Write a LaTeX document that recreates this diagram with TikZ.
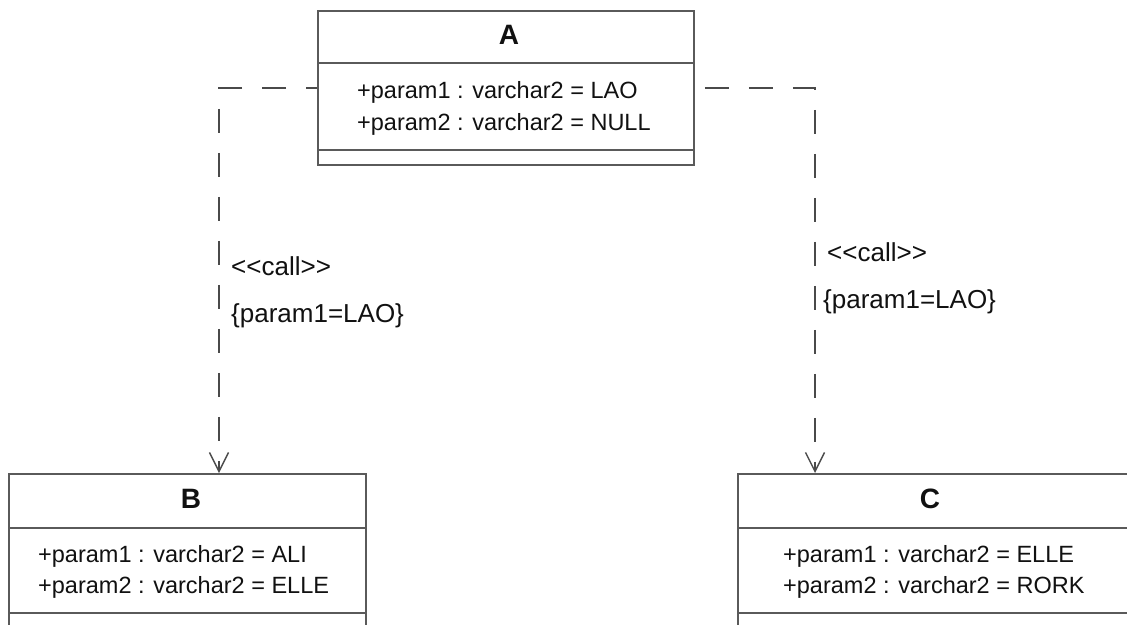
\documentclass[tikz,border=0pt]{standalone}
\usepackage{fontspec}
\setmainfont{Liberation Sans}
\usetikzlibrary{arrows.meta}
\definecolor{boxline}{HTML}{5A5A5A}
\definecolor{depline}{HTML}{4A4A4A}
\definecolor{txt}{HTML}{111111}
\begin{document}
\begin{tikzpicture}[x=1pt,y=-1pt,
  classbox/.style={draw=boxline,line width=1.6pt,rectangle,inner sep=0pt,minimum width=#1},
  sepline/.style={draw=boxline,line width=1.6pt},
  attr/.style={anchor=base west,inner sep=0pt,text=txt,font=\fontsize{23.5}{26}\selectfont},
  ttl/.style={anchor=base,inner sep=0pt,text=txt,font=\fontsize{28}{30}\selectfont\bfseries},
  lbl/.style={anchor=base west,inner sep=0pt,text=txt,font=\fontsize{26}{29}\selectfont},
  dep/.style={draw=depline,line width=1.4pt,dash pattern=on 24pt off 20pt,
    -{Straight Barb[length=19pt,width=19pt,line width=1.4pt]}}
]
\useasboundingbox (0,0) rectangle (1127,624);
\begin{scope}
\clip (0,0) rectangle (1127,624);
\fill[white] (0,0) rectangle (1127,624);
% class boxes
\node[classbox=376pt,minimum height=154pt] (A) at (506,88) {};
\node[classbox=357pt,minimum height=166pt] (B) at (187.5,557) {};
\node[classbox=402pt,minimum height=166pt] (C) at (939,557) {};
% compartments
\draw[sepline] (A.west |- 0,63) -- (A.east |- 0,63);
\draw[sepline] (A.west |- 0,150) -- (A.east |- 0,150);
\draw[sepline] (B.west |- 0,528) -- (B.east |- 0,528);
\draw[sepline] (B.west |- 0,613) -- (B.east |- 0,613);
\draw[sepline] (C.west |- 0,528) -- (C.east |- 0,528);
\draw[sepline] (C.west |- 0,613) -- (C.east |- 0,613);
% titles
\node[ttl] (At) at (509,44) {A};
\node[ttl] (Bt) at (191,508) {B};
\node[ttl] (Ctt) at (930,508) {C};
% attributes
\node[attr] (a1) at (357,98) {+param1 : varchar2 = LAO};
\node[attr] (a2) at (357,130) {+param2 : varchar2 = NULL};
\node[attr] (b1) at (38,562) {+param1 : varchar2 = ALI};
\node[attr] (b2) at (38,593) {+param2 : varchar2 = ELLE};
\node[attr] (c1) at (783,562) {+param1 : varchar2 = ELLE};
\node[attr] (c2) at (783,593) {+param2 : varchar2 = RORK};
% connector ends
\coordinate (Bin) at (219,473);
\coordinate (Cin) at (815,473);
% dependencies
\draw[dep,dash phase=13pt] (A.west) -| (Bin);
\draw[dep,dash phase=34pt] (A.east) -| (Cin);
% labels
\node[lbl] (l1) at (231,275) {{<}{<}call{>}{>}};
\node[lbl] (l2) at (231,322) {\{param1=LAO\}};
\node[lbl] (r1) at (827,261) {{<}{<}call{>}{>}};
\node[lbl] (r2) at (823,308) {\{param1=LAO\}};
\end{scope}
\end{tikzpicture}
\end{document}
